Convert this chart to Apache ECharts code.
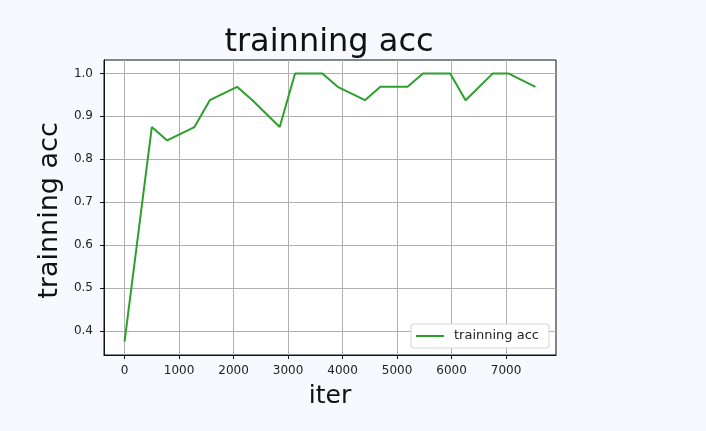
<!DOCTYPE html>
<html>
<head>
<meta charset="utf-8">
<script src="https://cdn.jsdelivr.net/npm/echarts@6/dist/echarts.min.js"></script>
<style>
html,body{margin:0;padding:0;background:#f8f9fe;}
#chart{width:706px;height:431px;}
</style>
</head>
<body>
<div id="chart"></div>
<script>
// iterations (epoch length 782, logged at step 0 and 500 of each epoch)
const iters = [0, 500, 782, 1282, 1564, 2064, 2346, 2846, 3128, 3628, 3910, 4410, 4692, 5192, 5474, 5974, 6256, 6756, 7038, 7538];
const trainAcc = [0.375, 0.875, 0.84375, 0.875, 0.9375, 0.96875, 0.9375, 0.875, 1.0, 1.0, 0.96875, 0.9375, 0.96875, 0.96875, 1.0, 1.0, 0.9375, 1.0, 1.0, 0.96875];
const xTicks = [0, 1000, 2000, 3000, 4000, 5000, 6000, 7000];
const yTicks = [0.4, 0.5, 0.6, 0.7, 0.8, 0.9, 1.0];
const titleText = 'trainning acc';
const xLabel = 'iter';
const yLabel = 'trainning acc';
const seriesName = 'trainning acc';

const font = 'DejaVu Sans';
const chart = echarts.init(document.getElementById('chart'), null, {renderer: 'canvas'});
const xMin = -377, xMax = 7915, yMin = 0.34375, yMax = 1.03125;

chart.setOption({
  backgroundColor: '#f8f9fe',
  animation: false,
  title: {
    text: titleText,
    left: 324,
    textAlign: 'center',
    top: 22,
    textStyle: {fontFamily: font, fontSize: 32, fontWeight: 'normal', color: '#111'}
  },
  grid: {
    left: 104, right: 150, top: 60, bottom: 76,
    show: true, backgroundColor: '#fff', borderColor: '#111', borderWidth: 1
  },
  legend: {
    data: [{name: seriesName, icon: 'rect'}],
    left: 411, top: 324,
    padding: [5, 10, 5, 5],
    itemWidth: 28, itemHeight: 2,
    backgroundColor: '#fff',
    borderColor: '#d5d5d5', borderWidth: 1, borderRadius: 3,
    textStyle: {fontFamily: font, fontSize: 13, color: '#222', padding: [0, 0, 0, 5], lineHeight: 14}
  },
  xAxis: {
    type: 'value', min: xMin, max: xMax,
    name: xLabel, nameLocation: 'middle', nameGap: 29,
    nameTextStyle: {fontFamily: font, fontSize: 25, color: '#111'},
    axisLine: {show: true, onZero: false, lineStyle: {color: '#111', width: 1}},
    axisTick: {show: true, inside: false, length: 4, customValues: xTicks, lineStyle: {color: '#111'}},
    axisLabel: {customValues: xTicks, margin: 10, fontFamily: font, fontSize: 12, color: '#222',
      formatter: v => String(v)},
    splitLine: {show: true, lineStyle: {color: '#b0b0b0', width: 1}}
  },
  yAxis: {
    type: 'value', min: yMin, max: yMax,
    name: yLabel, nameLocation: 'middle', nameGap: 39,
    nameTextStyle: {fontFamily: font, fontSize: 27, color: '#111', padding: [0, 6, 0, 0]},
    axisLine: {show: true, onZero: false, lineStyle: {color: '#111', width: 1}},
    axisTick: {show: true, inside: false, length: 4, customValues: yTicks, lineStyle: {color: '#111'}},
    axisLabel: {customValues: yTicks, margin: 11, fontFamily: font, fontSize: 12, color: '#222',
      formatter: v => v.toFixed(1)},
    splitLine: {show: true, lineStyle: {color: '#b0b0b0', width: 1}}
  },
  series: [{
    name: seriesName,
    type: 'line',
    data: iters.map((x, i) => [x, trainAcc[i]]),
    symbol: 'none',
    lineStyle: {color: '#2ca02c', width: 2},
    itemStyle: {color: '#2ca02c'}
  }]
});
</script>
</body>
</html>
